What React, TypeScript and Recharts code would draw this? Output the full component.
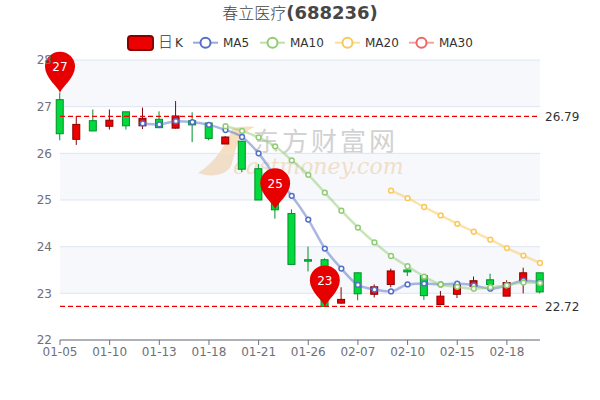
import React from 'react';
import {
    ComposedChart,
    Bar,
    Line,
    XAxis,
    YAxis,
    CartesianGrid,
    ReferenceArea,
    ReferenceLine,
    ReferenceDot,
} from 'recharts';

const dates = [
    '01-05', '01-06', '01-07', '01-10', '01-11', '01-12', '01-13', '01-14', '01-17', '01-18',
    '01-19', '01-20', '01-21', '01-24', '01-25', '01-26', '01-27', '01-28', '02-07', '02-08',
    '02-09', '02-10', '02-11', '02-14', '02-15', '02-16', '02-17', '02-18', '02-21', '02-22',
];
const opens = [
    27.15, 26.30, 26.70, 26.58, 26.89, 26.59, 26.73, 26.54, 26.70, 26.65,
    26.20, 26.26, 25.67, 24.99, 24.71, 23.72, 23.72, 22.79, 23.44, 22.98,
    23.19, 23.50, 23.38, 22.76, 22.98, 23.15, 23.29, 22.94, 23.27, 23.44,
];
const closes = [
    26.42, 26.62, 26.48, 26.71, 26.59, 26.75, 26.55, 26.80, 26.61, 26.32,
    26.35, 25.66, 25.00, 24.79, 23.62, 23.69, 22.72, 22.87, 22.99, 23.14,
    23.48, 23.46, 22.95, 22.94, 23.18, 23.27, 23.19, 23.23, 23.44, 23.03,
];
const lows = [
    26.28, 26.18, 26.48, 26.51, 26.51, 26.52, 26.54, 26.53, 26.24, 26.28,
    26.20, 25.60, 25.00, 24.60, 23.62, 23.47, 22.72, 22.78, 22.85, 22.91,
    23.13, 23.37, 22.86, 22.76, 22.90, 23.13, 23.13, 22.94, 23.00, 23.00,
];
const highs = [
    27.30, 26.80, 26.94, 26.94, 26.89, 26.98, 26.90, 27.12, 26.88, 26.65,
    26.37, 26.26, 25.77, 25.00, 24.80, 24.00, 23.75, 23.13, 23.44, 23.19,
    23.53, 23.56, 23.38, 23.05, 23.22, 23.36, 23.42, 23.28, 23.55, 23.44,
];
const ma5 = [
    null, null, null, null, null, 26.64, 26.62, 26.69, 26.67, 26.61,
    26.50, 26.35, 26.00, 25.51, 25.09, 24.58, 23.96, 23.53, 23.18, 23.08,
    23.04, 23.19, 23.21, 23.19, 23.21, 23.17, 23.10, 23.17, 23.27, 23.24,
];
const ma10 = [
    null, null, null, null, null, null, null, null, null, null,
    26.58, 26.48, 26.34, 26.15, 25.85, 25.54, 25.16, 24.77, 24.41, 24.09,
    23.80, 23.58, 23.36, 23.19, 23.14, 23.10, 23.13, 23.17, 23.23, 23.22,
];
const ma20 = [
    null, null, null, null, null, null, null, null, null, null,
    null, null, null, null, null, null, null, null, null, null,
    25.20, 25.04, 24.85, 24.67, 24.49, 24.32, 24.15, 23.97, 23.81, 23.65,
];
const yTicks = [22, 23, 24, 25, 26, 27, 28];
const bands = [[23, 24], [25, 26], [27, 28]];
const priceLines = [26.79, 22.72];
const pins = [
    { date: '01-05', value: 27.3, label: '27' },
    { date: '01-24', value: 24.8, label: '25' },
    { date: '01-27', value: 22.72, label: '23' },
];

const chartData = dates.map((date, i) => ({
    date,
    open: opens[i],
    close: closes[i],
    range: [lows[i], highs[i]],
    ma5: ma5[i],
    ma10: ma10[i],
    ma20: ma20[i],
}));

const AXIS_TEXT = '#6E7079';
const FONT = '"DejaVu Sans", sans-serif';

const Candle = (props: any) => {
    const { x, y, width, height, payload } = props;
    const [low, high] = payload.range;
    const perUnit = height / (high - low);
    const mid = x + width / 2;
    const up = payload.close >= payload.open;
    const top = y + (high - Math.max(payload.open, payload.close)) * perUnit;
    const bodyH = Math.abs(payload.close - payload.open) * perUnit;
    const edge = up ? '#8A0000' : '#008F28';
    return (
        <g>
            <line x1={mid} x2={mid} y1={y} y2={y + height} stroke={edge} strokeWidth={1} />
            <rect x={x + 0.5} y={top} width={width - 1} height={bodyH} fill={up ? '#ec0000' : '#00da3c'} stroke={edge} strokeWidth={1} />
        </g>
    );
};

const Pin = (props: any) => {
    const { cx, cy, label } = props;
    return (
        <g transform={`translate(${cx},${cy})`}>
            <path d="M0 0 C-2 -6 -15 -15 -15 -26 A15 15 0 1 1 15 -26 C15 -15 2 -6 0 0 Z" fill="#e60000" />
            <text x={0} y={-21.5} textAnchor="middle" fill="#fff" fontSize={12} fontFamily={FONT}>{label}</text>
        </g>
    );
};

const legendLines = [
    { name: 'MA5', color: '#5470c6', x: 193 },
    { name: 'MA10', color: '#91cc75', x: 260 },
    { name: 'MA20', color: '#fac858', x: 335 },
    { name: 'MA30', color: '#ee6666', x: 409 },
];

function Header() {
    return (
        <svg width={600} height={56} style={{ position: 'absolute', left: 0, top: 0 }}>
            <text x={300} y={19} textAnchor="middle" fill="#464646" fontSize={18} fontFamily={FONT}>
                <tspan fontFamily='"Noto Sans CJK SC"' fontSize={16} fontWeight={300}>春立医疗</tspan>
                <tspan fontWeight="bold">(688236)</tspan>
            </text>
            <rect x={128} y={36} width={25} height={14} rx={3} fill="#ec0000" stroke="#8A0000" strokeWidth={2} />
            <text x={158} y={47} fill="#333" fontSize={12} fontFamily={FONT}>
                <tspan fontFamily='"Noto Sans CJK SC"' fontSize={15} fontWeight={300}>日</tspan>
                <tspan dx={2}>K</tspan>
            </text>
            {legendLines.map((item) => (
                <g key={item.name}>
                    <line x1={item.x} x2={item.x + 25} y1={42.7} y2={42.7} stroke={item.color} strokeWidth={2} strokeOpacity={0.6} />
                    <circle cx={item.x + 12.5} cy={42.7} r={5} fill="#fff" stroke={item.color} strokeWidth={2} />
                    <text x={item.x + 30} y={47} fill="#333" fontSize={12} fontFamily={FONT}>{item.name}</text>
                </g>
            ))}
        </svg>
    );
}

function Watermark() {
    return (
        <svg width={600} height={400} style={{ position: 'absolute', left: 0, top: 0 }}>
            <path d="M255 127 C244 126 236 127 232 129 C226 144 216 162 198 173 C212 178 226 175 231 166 C236 154 235 134 255 127 Z" fill="#f8dfc0" />
            <text x={253} y={151} fill="#d2d2d2" fontSize={26} letterSpacing={3} fontFamily='"Noto Sans CJK SC"'>东方财富网</text>
            <text x={233} y={174} fill="#f8dfc0" fontSize={22} fontStyle="italic" fontFamily='"DejaVu Serif", serif'>eastmoney.com</text>
        </svg>
    );
}

export default function App() {
    return (
        <div style={{ position: 'absolute', left: 0, top: 0, width: 600, height: 400, fontFamily: FONT }}>
            <Watermark />
            <Header />
            <div style={{ position: 'absolute', left: 0, top: 0 }}>
                <ComposedChart width={600} height={400} data={chartData} margin={{ top: 60, right: 60, left: 0, bottom: 0 }}>
                    {bands.map(([from, to]) => (
                        <ReferenceArea key={from} y1={from} y2={to} fill="#d2dbee" fillOpacity={0.2} stroke="none" />
                    ))}
                    <CartesianGrid vertical={false} stroke="#e0e6f1" />
                    <XAxis
                        dataKey="date"
                        scale="point"
                        height={60}
                        interval={2}
                        tick={{ fontSize: 12, fill: AXIS_TEXT, fontFamily: FONT }}
                        tickLine={{ stroke: AXIS_TEXT }}
                        axisLine={{ stroke: AXIS_TEXT }}
                        tickSize={5}
                    />
                    <YAxis
                        width={60}
                        domain={[22, 28]}
                        ticks={yTicks}
                        tick={{ fontSize: 12, fill: AXIS_TEXT, fontFamily: FONT }}
                        tickLine={false}
                        axisLine={false}
                    />
                    <Bar dataKey="range" barSize={8} shape={<Candle />} isAnimationActive={false} />
                    {priceLines.map((value) => (
                        <ReferenceLine
                            key={value}
                            y={value}
                            stroke="#f00000"
                            strokeWidth={1.3}
                            strokeDasharray="5 3"
                            label={{ value: value.toFixed(2), position: 'right', fill: '#333', fontSize: 12, fontFamily: FONT }}
                        />
                    ))}
                    <ReferenceLine
                        segment={[{ x: '01-05', y: 27.3 }, { x: '01-27', y: 22.72 }]}
                        stroke="#f00000"
                        strokeDasharray="3 3"
                    />
                    <Line type="monotone" dataKey="ma5" stroke="#5470c6" strokeOpacity={0.5} strokeWidth={2.5} dot={{ r: 2.4, fill: '#fff', stroke: '#5470c6', strokeWidth: 1.5, strokeOpacity: 1 }} isAnimationActive={false} />
                    <Line type="monotone" dataKey="ma10" stroke="#91cc75" strokeOpacity={0.5} strokeWidth={2.5} dot={{ r: 2.4, fill: '#fff', stroke: '#91cc75', strokeWidth: 1.5, strokeOpacity: 1 }} isAnimationActive={false} />
                    <Line type="monotone" dataKey="ma20" stroke="#fac858" strokeOpacity={0.5} strokeWidth={2.5} dot={{ r: 2.4, fill: '#fff', stroke: '#fac858', strokeWidth: 1.5, strokeOpacity: 1 }} isAnimationActive={false} />
                    {pins.map((pin) => (
                        <ReferenceDot key={pin.date} x={pin.date} y={pin.value} ifOverflow="visible" shape={<Pin label={pin.label} />} />
                    ))}
                </ComposedChart>
            </div>
        </div>
    );
}
